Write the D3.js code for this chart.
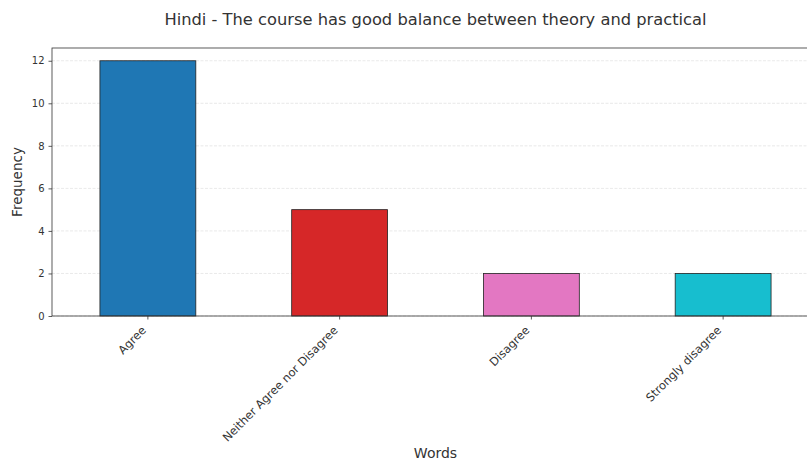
<!DOCTYPE html>
<html><head><meta charset="utf-8">
<script src="https://cdn.jsdelivr.net/npm/d3@7"></script>
<style>body{margin:0;background:#fff}svg{display:block;font-family:"DejaVu Sans",sans-serif}</style>
</head><body><svg id="c" width="807" height="466"></svg>
<script>
const categories = ["Agree", "Neither Agree nor Disagree", "Disagree", "Strongly disagree"];
const values = [12, 5, 2, 2];
const colors = ["#1f77b4", "#d62728", "#e377c2", "#17becf"];
const yTicks = [0, 2, 4, 6, 8, 10, 12];
const title = "Hindi - The course has good balance between theory and practical";

const svg = d3.select("#c");
const m = {left: 52, right: 819, top: 48, bottom: 316};
const x = d3.scaleBand().domain(categories).range([m.left, m.right]).paddingInner(0.5).paddingOuter(0.25);
const y = d3.scaleLinear().domain([0, 12.6]).range([m.bottom, m.top]);

// grid
svg.append("g").selectAll("line").data(yTicks).join("line")
  .attr("x1", m.left).attr("x2", m.right)
  .attr("y1", d => y(d)).attr("y2", d => y(d))
  .attr("stroke", "#b0b0b0").attr("stroke-opacity", 0.35).attr("stroke-width", 0.8)
  .attr("stroke-dasharray", "3,1.5");

// bars
svg.append("g").selectAll("rect").data(values).join("rect")
  .attr("x", (d, i) => x(categories[i]))
  .attr("y", d => y(d))
  .attr("width", x.bandwidth())
  .attr("height", d => y(0) - y(d))
  .attr("fill", (d, i) => colors[i])
  .attr("stroke", "#222").attr("stroke-width", 0.8);

// frame
svg.append("rect").attr("x", m.left).attr("y", m.top)
  .attr("width", m.right - m.left).attr("height", m.bottom - m.top)
  .attr("fill", "none").attr("stroke", "#333").attr("stroke-width", 0.8);

// y axis
const ya = svg.append("g").attr("transform", `translate(${m.left},0)`)
  .call(d3.axisLeft(y).tickValues(yTicks).tickSize(3.5).tickPadding(4).tickFormat(d3.format("d")));
ya.select(".domain").remove();
ya.selectAll("line").attr("stroke", "#333").attr("stroke-width", 0.8);
ya.selectAll("text").attr("font-size", 10).attr("fill", "#333").attr("font-family", "DejaVu Sans");

// x axis
const xa = svg.append("g").attr("transform", `translate(0,${m.bottom})`)
  .call(d3.axisBottom(x).tickSize(3.5).tickSizeOuter(0));
xa.select(".domain").remove();
xa.selectAll("line").attr("stroke", "#333").attr("stroke-width", 0.8);
xa.selectAll("text").attr("font-size", 11.5).attr("fill", "#333").attr("font-family", "DejaVu Sans")
  .attr("text-anchor", "end").attr("dy", null).attr("y", null)
  .attr("transform", "translate(-1,15) rotate(-45)");

// labels
svg.append("text").attr("x", (m.left + m.right) / 2).attr("y", 25).attr("text-anchor", "middle")
  .attr("font-size", 16.3).attr("fill", "#333").text(title);
svg.append("text").attr("x", (m.left + m.right) / 2).attr("y", 458).attr("text-anchor", "middle")
  .attr("font-size", 14).attr("fill", "#333").text("Words");
svg.append("text").attr("transform", `translate(22,${(m.top + m.bottom) / 2}) rotate(-90)`)
  .attr("text-anchor", "middle").attr("font-size", 13.5).attr("fill", "#333").text("Frequency");
</script></body></html>
